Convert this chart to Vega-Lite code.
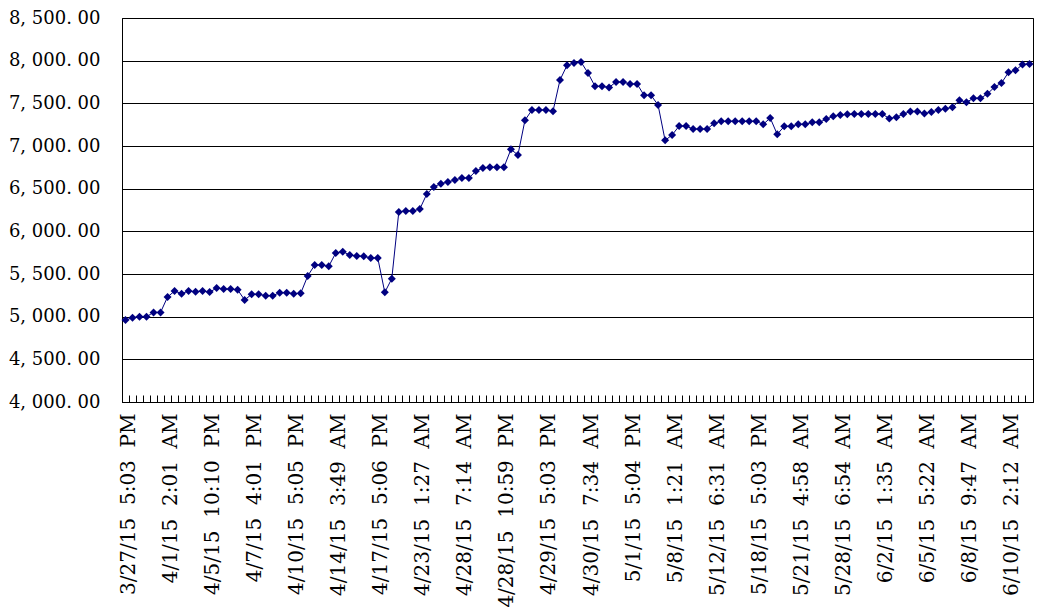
{
  "$schema": "https://vega.github.io/schema/vega-lite/v6.json",
  "width": 911,
  "height": 384,
  "autosize": {"type": "none"},
  "padding": {"left": 122, "top": 18, "right": 13, "bottom": 208},
  "background": "white",
  "config": {"view": {"stroke": "#000000", "strokeWidth": 1}},
  "data": {
    "values": [
      {"t": "3/27/15 5:03 PM", "v": 4960}, {"t": "n1", "v": 4988}, {"t": "n2", "v": 5000}, {"t": "n3", "v": 5000}, {"t": "n4", "v": 5050}, {"t": "n5", "v": 5050},
      {"t": "4/1/15 2:01 AM", "v": 5231}, {"t": "n7", "v": 5300}, {"t": "n8", "v": 5269}, {"t": "n9", "v": 5300}, {"t": "n10", "v": 5292}, {"t": "n11", "v": 5300},
      {"t": "4/5/15 10:10 PM", "v": 5288}, {"t": "n13", "v": 5335}, {"t": "n14", "v": 5323}, {"t": "n15", "v": 5323}, {"t": "n16", "v": 5315}, {"t": "n17", "v": 5196},
      {"t": "4/7/15 4:01 PM", "v": 5262}, {"t": "n19", "v": 5262}, {"t": "n20", "v": 5246}, {"t": "n21", "v": 5246}, {"t": "n22", "v": 5281}, {"t": "n23", "v": 5281},
      {"t": "4/10/15 5:05 PM", "v": 5269}, {"t": "n25", "v": 5273}, {"t": "n26", "v": 5477}, {"t": "n27", "v": 5605}, {"t": "n28", "v": 5605}, {"t": "n29", "v": 5590},
      {"t": "4/14/15 3:49 AM", "v": 5746}, {"t": "n31", "v": 5762}, {"t": "n32", "v": 5723}, {"t": "n33", "v": 5711}, {"t": "n34", "v": 5707}, {"t": "n35", "v": 5688},
      {"t": "4/17/15 5:06 PM", "v": 5688}, {"t": "n37", "v": 5285}, {"t": "n38", "v": 5445}, {"t": "n39", "v": 6227}, {"t": "n40", "v": 6238}, {"t": "n41", "v": 6238},
      {"t": "4/23/15 1:27 AM", "v": 6262}, {"t": "n43", "v": 6438}, {"t": "n44", "v": 6520}, {"t": "n45", "v": 6559}, {"t": "n46", "v": 6578}, {"t": "n47", "v": 6602},
      {"t": "4/28/15 7:14 AM", "v": 6625}, {"t": "n49", "v": 6625}, {"t": "n50", "v": 6707}, {"t": "n51", "v": 6742}, {"t": "n52", "v": 6752}, {"t": "n53", "v": 6750},
      {"t": "4/28/15 10:59 PM", "v": 6750}, {"t": "n55", "v": 6961}, {"t": "n56", "v": 6895}, {"t": "n57", "v": 7301}, {"t": "n58", "v": 7422}, {"t": "n59", "v": 7422},
      {"t": "4/29/15 5:03 PM", "v": 7422}, {"t": "n61", "v": 7406}, {"t": "n62", "v": 7773}, {"t": "n63", "v": 7945}, {"t": "n64", "v": 7973}, {"t": "n65", "v": 7984},
      {"t": "4/30/15 7:34 AM", "v": 7855}, {"t": "n67", "v": 7699}, {"t": "n68", "v": 7699}, {"t": "n69", "v": 7687}, {"t": "n70", "v": 7750}, {"t": "n71", "v": 7750},
      {"t": "5/1/15 5:04 PM", "v": 7727}, {"t": "n73", "v": 7727}, {"t": "n74", "v": 7594}, {"t": "n75", "v": 7594}, {"t": "n76", "v": 7480}, {"t": "n77", "v": 7066},
      {"t": "5/8/15 1:21 AM", "v": 7129}, {"t": "n79", "v": 7234}, {"t": "n80", "v": 7234}, {"t": "n81", "v": 7199}, {"t": "n82", "v": 7199}, {"t": "n83", "v": 7199},
      {"t": "5/12/15 6:31 AM", "v": 7266}, {"t": "n85", "v": 7289}, {"t": "n86", "v": 7289}, {"t": "n87", "v": 7289}, {"t": "n88", "v": 7289}, {"t": "n89", "v": 7289},
      {"t": "5/18/15 5:03 PM", "v": 7289}, {"t": "n91", "v": 7254}, {"t": "n92", "v": 7328}, {"t": "n93", "v": 7137}, {"t": "n94", "v": 7230}, {"t": "n95", "v": 7230},
      {"t": "5/21/15 4:58 AM", "v": 7254}, {"t": "n97", "v": 7254}, {"t": "n98", "v": 7277}, {"t": "n99", "v": 7277}, {"t": "n100", "v": 7316}, {"t": "n101", "v": 7348},
      {"t": "5/28/15 6:54 AM", "v": 7363}, {"t": "n103", "v": 7371}, {"t": "n104", "v": 7374}, {"t": "n105", "v": 7374}, {"t": "n106", "v": 7374}, {"t": "n107", "v": 7374},
      {"t": "6/2/15 1:35 AM", "v": 7374}, {"t": "n109", "v": 7322}, {"t": "n110", "v": 7338}, {"t": "n111", "v": 7374}, {"t": "n112", "v": 7405}, {"t": "n113", "v": 7405},
      {"t": "6/5/15 5:22 AM", "v": 7381}, {"t": "n115", "v": 7397}, {"t": "n116", "v": 7421}, {"t": "n117", "v": 7437}, {"t": "n118", "v": 7453}, {"t": "n119", "v": 7536},
      {"t": "6/8/15 9:47 AM", "v": 7512}, {"t": "n121", "v": 7559}, {"t": "n122", "v": 7559}, {"t": "n123", "v": 7611}, {"t": "n124", "v": 7690}, {"t": "n125", "v": 7737},
      {"t": "6/10/15 2:12 AM", "v": 7863}, {"t": "n127", "v": 7887}, {"t": "n128", "v": 7954}, {"t": "n129", "v": 7962}
    ]
  },
  "mark": {
    "type": "line",
    "color": "#000080",
    "strokeWidth": 1,
    "point": {"shape": "diamond", "size": 64, "filled": true, "color": "#000080", "opacity": 1}
  },
  "encoding": {
    "x": {
      "field": "t",
      "type": "ordinal",
      "sort": null,
      "scale": {"type": "band", "paddingInner": 0, "paddingOuter": 0},
      "axis": {
        "title": null,
        "bandPosition": 0,
        "labelOffset": 3.5,
        "labelAngle": -90,
        "labelExpr": "indexof(datum.label, '/') >= 0 ? replace(datum.label, regexp(' ', 'g'), '\u00a0\u00a0') : ''",
        "labelFont": "DejaVu Serif",
        "labelFontSize": 20,
        "labelColor": "#000000",
        "labelPadding": 18,
        "labelOverlap": false,
        "labelLimit": 400,
        "labelBound": false,
        "tickSize": -7,
        "tickColor": "#000000",
        "tickWidth": 1,
        "domainColor": "#000000",
        "domainWidth": 1,
        "grid": false
      }
    },
    "y": {
      "field": "v",
      "type": "quantitative",
      "scale": {"domain": [4000, 8500], "nice": false, "zero": false},
      "axis": {
        "title": null,
        "values": [4000, 4500, 5000, 5500, 6000, 6500, 7000, 7500, 8000, 8500],
        "labelExpr": "replace(replace(format(datum.value, ',.2f'), ',', ',\u00a0'), '.', '.\u00a0')",
        "labelFont": "DejaVu Serif",
        "labelFontSize": 18,
        "labelColor": "#000000",
        "ticks": false,
        "labelPadding": 22,
        "grid": true,
        "gridColor": "#000000",
        "gridOpacity": 1,
        "gridWidth": 1,
        "domainColor": "#000000",
        "domainWidth": 1
      }
    }
  }
}
